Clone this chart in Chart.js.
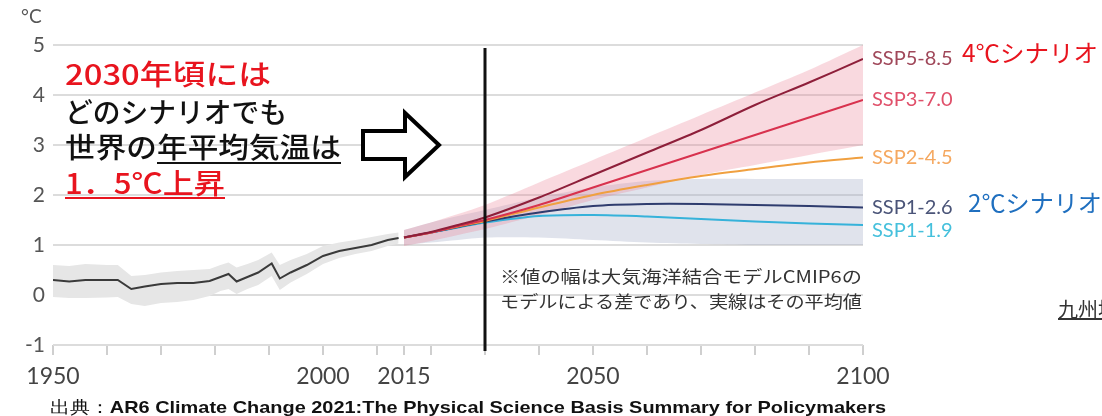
<!DOCTYPE html>
<html>
<head>
<meta charset="utf-8">
<script src="https://cdn.jsdelivr.net/npm/chart.js@4"></script>
<style>
body { margin: 0; background: #fff; }
#wrap { position: relative; width: 1102px; height: 416px; overflow: hidden; background: #fff; }
#wrap canvas { position: absolute; left: 0; top: 0; }
.t { position: absolute; white-space: nowrap; line-height: 1; transform-origin: 0 50%; }
.jp { font-family: "Noto Sans CJK JP", "Noto Sans", sans-serif; }
</style>
</head>
<body>
<div id="wrap"><canvas id="chart" width="1102" height="416"></canvas></div>
<script>
// observed period (1950-2014)
const histYears = [1950, 1953, 1956, 1960, 1962, 1964.5, 1967, 1970, 1973, 1976, 1979, 1981, 1982.5, 1984, 1986, 1988, 1990.5, 1992, 1994, 1997, 2000, 2003, 2006, 2009, 2012, 2014];
const histMean  = [0.30, 0.27, 0.30, 0.30, 0.30, 0.12, 0.17, 0.22, 0.24, 0.24, 0.28, 0.36, 0.42, 0.27, 0.36, 0.45, 0.63, 0.33, 0.45, 0.60, 0.78, 0.88, 0.94, 1.00, 1.10, 1.14];
const histUpper = [0.60, 0.58, 0.62, 0.60, 0.60, 0.38, 0.40, 0.45, 0.48, 0.50, 0.52, 0.60, 0.65, 0.55, 0.62, 0.70, 0.85, 0.60, 0.70, 0.82, 0.98, 1.05, 1.10, 1.16, 1.22, 1.25];
const histLower = [-0.04, -0.06, -0.06, -0.05, -0.04, -0.18, -0.22, -0.16, -0.14, -0.10, -0.02, 0.08, 0.12, 0.02, 0.12, 0.20, 0.38, 0.10, 0.25, 0.42, 0.62, 0.74, 0.82, 0.88, 0.98, 1.03];

// projections (2015-2100)
const projYears = [2015, 2020, 2025, 2030, 2040, 2050, 2060, 2070, 2080, 2090, 2100];
const ssp585 = [1.15, 1.26, 1.40, 1.55, 1.95, 2.40, 2.85, 3.30, 3.80, 4.25, 4.72];
const ssp370 = [1.15, 1.25, 1.38, 1.50, 1.80, 2.15, 2.50, 2.85, 3.20, 3.55, 3.90];
const ssp245 = [1.15, 1.25, 1.37, 1.48, 1.75, 2.00, 2.20, 2.38, 2.52, 2.65, 2.75];
const ssp126 = [1.15, 1.25, 1.36, 1.47, 1.65, 1.78, 1.82, 1.82, 1.80, 1.78, 1.75];
const ssp119 = [1.15, 1.25, 1.35, 1.45, 1.58, 1.60, 1.57, 1.52, 1.47, 1.43, 1.40];
const highUpper = [1.30, 1.45, 1.62, 1.80, 2.25, 2.70, 3.15, 3.60, 4.05, 4.50, 5.00];
const highLower = [0.98, 1.08, 1.20, 1.32, 1.60, 1.90, 2.15, 2.40, 2.60, 2.80, 3.00];
const lowUpper  = [1.30, 1.45, 1.58, 1.70, 1.95, 2.15, 2.28, 2.32, 2.32, 2.32, 2.32];
const lowLower  = [1.00, 1.05, 1.10, 1.15, 1.15, 1.10, 1.05, 1.02, 1.00, 1.00, 1.00];

const sspNames  = ["SSP5-8.5", "SSP3-7.0", "SSP2-4.5", "SSP1-2.6", "SSP1-1.9"];
const sspSeries = [ssp585, ssp370, ssp245, ssp126, ssp119];
const sspLineColors  = ["#8e1f3a", "#d8324e", "#f0a040", "#2f3c6e", "#36b2da"];
const sspLabelColors = ["#a0485a", "#e0506a", "#f5a860", "#4a5478", "#45c0dc"];
const sspLabelNudge  = [0, 0, 0, 0, 6];

const xTickYears  = [1950, 1960, 1970, 1980, 1990, 2000, 2010, 2015, 2020, 2030, 2040, 2050, 2060, 2070, 2080, 2090, 2100];
const xLabelYears = [1950, 2000, 2015, 2050, 2100];
const yMin = -1, yMax = 5;

function pts(xs, ys) {
    return xs.map((x, i) => ({ x: x, y: ys[i] }));
}

function band(xs, up, lo, color, order, tension) {
    return [
        { data: pts(xs, up), borderWidth: 0, pointRadius: 0, fill: '+1', backgroundColor: color, order: order, tension: tension },
        { data: pts(xs, lo), borderWidth: 0, pointRadius: 0, fill: false, order: order, tension: tension },
    ];
}

let datasets = [];
datasets = datasets.concat(band(histYears, histUpper, histLower, '#e6e6e6', 30, 0));
datasets = datasets.concat(band(projYears, highUpper, highLower, 'rgba(236,130,150,0.30)', 20, 0.3));
datasets = datasets.concat(band(projYears, lowUpper, lowLower, 'rgba(165,174,198,0.34)', 25, 0.3));
datasets.push({ data: pts(histYears, histMean), borderColor: '#3a3a3a', borderWidth: 2, pointRadius: 0, fill: false, order: 6, tension: 0 });
for (let i = sspSeries.length - 1; i >= 0; i--) {
    datasets.push({
        data: pts(projYears, sspSeries[i]),
        borderColor: sspLineColors[i],
        borderWidth: 2,
        pointRadius: 0,
        fill: false,
        order: i + 1,
        tension: 0.3,
    });
}

const overlay = {
    id: 'overlay',
    afterDatasetsDraw(chart) {
        const ctx = chart.ctx;
        const area = chart.chartArea;
        const x = chart.scales.x;
        const y = chart.scales.y;
        ctx.save();

        // 2030 marker
        const xp = x.getPixelForValue(2030);
        ctx.strokeStyle = '#111';
        ctx.lineWidth = 3;
        ctx.beginPath();
        ctx.moveTo(xp, y.getPixelForValue(4.94));
        ctx.lineTo(xp, area.bottom + 6);
        ctx.stroke();

        // outline arrow
        ctx.beginPath();
        ctx.moveTo(363, 131);
        ctx.lineTo(405, 131);
        ctx.lineTo(405, 113);
        ctx.lineTo(439, 145);
        ctx.lineTo(405, 177);
        ctx.lineTo(405, 159);
        ctx.lineTo(363, 159);
        ctx.closePath();
        ctx.fillStyle = '#fff';
        ctx.fill();
        ctx.lineWidth = 4;
        ctx.lineJoin = 'miter';
        ctx.strokeStyle = '#000';
        ctx.stroke();

        // scenario labels at line ends
        ctx.font = '20px Lato';
        ctx.textBaseline = 'middle';
        ctx.textAlign = 'left';
        for (let i = 0; i < sspNames.length; i++) {
            const v = sspSeries[i][sspSeries[i].length - 1];
            ctx.fillStyle = sspLabelColors[i];
            ctx.fillText(sspNames[i], area.right + 9, y.getPixelForValue(v) + sspLabelNudge[i]);
        }
        ctx.restore();
    }
};

const chart = new Chart(document.getElementById('chart').getContext('2d'), {
    type: 'line',
    data: { datasets: datasets },
    options: {
        animation: false,
        responsive: false,
        layout: { padding: { top: 45, right: 239, left: 0, bottom: 0 } },
        plugins: {
            legend: { display: false },
            tooltip: { enabled: false },
        },
        scales: {
            x: {
                type: 'linear',
                min: 1950,
                max: 2100,
                afterBuildTicks: (s) => { s.ticks = xTickYears.map(v => ({ value: v })); },
                afterFit: (s) => { s.height = 71; },
                ticks: {
                    autoSkip: false,
                    maxRotation: 0,
                    padding: 8,
                    color: '#444',
                    font: { family: 'Lato', size: 23 },
                    callback: (v) => xLabelYears.includes(v) ? String(v) : '',
                },
                grid: { drawOnChartArea: false, color: '#cfcfcf', lineWidth: 2, tickLength: 10 },
                border: { display: false },
            },
            y: {
                min: yMin,
                max: yMax,
                afterFit: (s) => { s.width = 53; },
                ticks: {
                    stepSize: 1,
                    padding: 8,
                    color: '#555',
                    font: { family: 'Lato', size: 21 },
                },
                grid: { color: '#dcdcdc', lineWidth: 2, drawTicks: false },
                border: { display: false },
            },
        },
    },
    plugins: [overlay],
});

// text overlays
const wrap = document.getElementById('wrap');
function addText(html, left, cy, size, css, width) {
    const el = document.createElement('div');
    el.className = 't ' + (css.cls || '');
    el.innerHTML = html;
    el.style.left = left + 'px';
    el.style.top = (cy - size / 2) + 'px';
    el.style.fontSize = size + 'px';
    el.style.color = css.color || '#111';
    if (css.weight) el.style.fontWeight = css.weight;
    if (css.family) el.style.fontFamily = css.family;
    wrap.appendChild(el);
    if (width) {
        const w = el.getBoundingClientRect().width;
        el.style.transform = 'scaleX(' + (width / w) + ')';
    }
    return el;
}

function drawTexts() {
    addText('°C', 21, 15, 19, { color: '#555', family: 'Lato' });

    addText('2030年頃には', 65, 73, 28, { cls: 'jp', color: '#e8141e', weight: 500 }, 206);
    addText('どのシナリオでも', 65, 111, 28, { cls: 'jp', color: '#111', weight: 500 }, 222);
    addText('世界の<span style="text-decoration:underline;text-underline-offset:4px;text-decoration-thickness:2px">年平均気温は</span>', 65, 146, 28, { cls: 'jp', color: '#111', weight: 500 }, 276);
    addText('<span style="text-decoration:underline;text-underline-offset:3px;text-decoration-thickness:2px">1．5℃上昇</span>', 65, 182, 28, { cls: 'jp', color: '#e8141e', weight: 500 }, 160);

    addText('※値の幅は大気海洋結合モデルCMIP6の', 500, 275, 17, { cls: 'jp', color: '#333' }, 362);
    addText('モデルによる差であり、実線はその平均値', 500, 300, 17, { cls: 'jp', color: '#333' }, 362);

    addText('4℃シナリオ', 962, 52, 24, { cls: 'jp', color: '#e8141e' }, 136);
    addText('2℃シナリオ', 968, 202, 24, { cls: 'jp', color: '#1f6fbf' }, 134);
    addText('<span style="text-decoration:underline">九州地方</span>', 1058, 309, 20, { cls: 'jp', color: '#333' });

    addText('<span style="font-weight:400">出典：</span>AR6 Climate Change 2021:The Physical Science Basis Summary for Policymakers',
        50, 407, 17, { family: '"Liberation Sans", Arial, sans-serif', color: '#111', weight: 700 }, 836);
}

if (document.fonts && document.fonts.ready) {
    document.fonts.ready.then(drawTexts);
} else {
    drawTexts();
}
</script>
</body>
</html>
